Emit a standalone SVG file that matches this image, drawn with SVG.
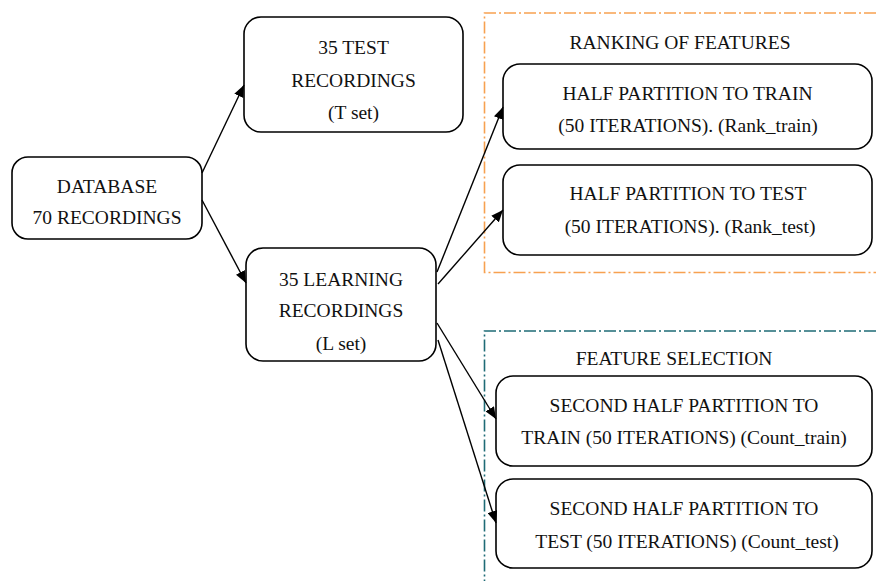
<svg xmlns="http://www.w3.org/2000/svg" width="876" height="581" viewBox="0 0 876 581">
<defs>
<style>
.box{fill:#fff;stroke:#000;stroke-width:1.6}
text{font-family:"Liberation Serif","Times New Roman",serif;font-size:19.5px;fill:#111;text-anchor:middle}
.edge{stroke:#000;stroke-width:1.4;fill:none;marker-end:url(#ah)}
.grp{fill:none;stroke-width:1.6;stroke-dasharray:12 3 2 3}
</style>
<marker id="ah" viewBox="0 0 12 10" refX="12" refY="5" markerWidth="12" markerHeight="10" markerUnits="userSpaceOnUse" orient="auto">
<path d="M0,0 L12,5 L0,10 z" fill="#000"/>
</marker>
</defs>
<rect width="876" height="581" fill="#fff"/>
<g id="group-ranking">
<path class="grp" stroke="#F7A150" d="M876,13 H484.5 V272.5 H876"/>
<text x="680" y="49">RANKING OF FEATURES</text>
</g>
<g id="group-selection">
<path class="grp" stroke="#1E6B76" d="M876,331 H484.5 V581"/>
<text x="674" y="365">FEATURE SELECTION</text>
</g>
<g id="database">
<rect class="box" x="12" y="157" width="190" height="82" rx="16"/>
<text x="107" y="192.5">DATABASE</text>
<text x="107" y="224">70 RECORDINGS</text>
</g>
<g id="test-recordings">
<rect class="box" x="244" y="17" width="219" height="115" rx="17"/>
<text x="353.5" y="54">35 TEST</text>
<text x="353.5" y="87">RECORDINGS</text>
<text x="353.5" y="118.5">(T set)</text>
</g>
<g id="learning-recordings">
<rect class="box" x="246" y="248" width="190" height="113" rx="17"/>
<text x="341" y="285.5">35 LEARNING</text>
<text x="341" y="317">RECORDINGS</text>
<text x="341" y="350">(L set)</text>
</g>
<g id="half-train">
<rect class="box" x="503" y="64" width="369" height="85" rx="17"/>
<text x="687.5" y="99.5">HALF PARTITION TO TRAIN</text>
<text x="688" y="132">(50 ITERATIONS). (Rank_train)</text>
</g>
<g id="half-test">
<rect class="box" x="503" y="165" width="369" height="90" rx="17"/>
<text x="688" y="200">HALF PARTITION TO TEST</text>
<text x="690" y="233">(50 ITERATIONS). (Rank_test)</text>
</g>
<g id="second-train">
<rect class="box" x="496" y="376" width="376" height="90" rx="17"/>
<text x="684" y="412">SECOND HALF PARTITION TO</text>
<text x="684" y="444">TRAIN (50 ITERATIONS) (Count_train)</text>
</g>
<g id="second-test">
<rect class="box" x="496" y="479" width="376" height="89" rx="17"/>
<text x="684" y="515">SECOND HALF PARTITION TO</text>
<text x="687" y="547.5">TEST (50 ITERATIONS) (Count_test)</text>
</g>
<g id="connectors">
<line class="edge" x1="202" y1="173" x2="244" y2="85"/>
<line class="edge" x1="202" y1="200" x2="246" y2="283"/>
<line class="edge" x1="437" y1="272" x2="503" y2="107"/>
<line class="edge" x1="438" y1="284" x2="503" y2="210"/>
<line class="edge" x1="437" y1="323" x2="496" y2="419"/>
<line class="edge" x1="438" y1="340" x2="496" y2="523"/>
</g>
</svg>
